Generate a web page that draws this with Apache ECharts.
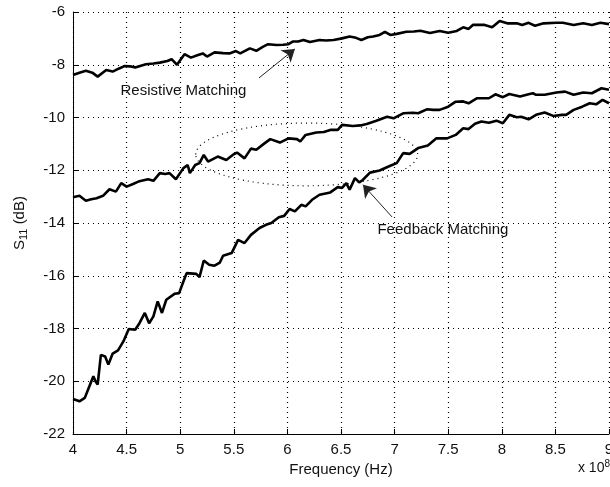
<!DOCTYPE html>
<html>
<head>
<meta charset="utf-8">
<script src="https://cdn.jsdelivr.net/npm/echarts@6/dist/echarts.min.js"></script>
<style>
  html, body { margin: 0; padding: 0; background: #fff; }
  #chart { width: 610px; height: 487px; }
</style>
</head>
<body>
<div id="chart"></div>
<script>
// frequency in units of 1e8 Hz, S11 in dB
var resistiveFreq = [4.00,4.06,4.12,4.18,4.23,4.31,4.37,4.43,4.48,4.53,4.58,4.68,4.75,4.81,4.88,4.92,4.97,5.04,5.10,5.16,5.21,5.25,5.32,5.40,5.46,5.52,5.56,5.65,5.71,5.77,5.82,5.90,5.96,6.01,6.05,6.10,6.15,6.21,6.30,6.36,6.43,6.51,6.58,6.64,6.69,6.75,6.80,6.86,6.91,6.96,7.02,7.11,7.18,7.24,7.33,7.42,7.50,7.58,7.64,7.69,7.73,7.84,7.91,7.98,8.05,8.14,8.19,8.25,8.31,8.39,8.51,8.57,8.67,8.76,8.84,8.92,9.00];
var resistiveS11 = [-8.39,-8.30,-8.23,-8.30,-8.45,-8.20,-8.26,-8.14,-8.05,-8.06,-8.10,-7.98,-7.95,-7.92,-7.86,-7.79,-8.00,-7.60,-7.73,-7.64,-7.57,-7.69,-7.53,-7.56,-7.57,-7.48,-7.57,-7.38,-7.47,-7.32,-7.22,-7.25,-7.24,-7.22,-7.12,-7.12,-7.06,-7.14,-7.06,-7.08,-7.06,-7.00,-6.93,-6.98,-7.06,-6.96,-6.93,-6.87,-6.75,-6.87,-6.83,-6.75,-6.74,-6.71,-6.80,-6.72,-6.79,-6.72,-6.58,-6.64,-6.49,-6.49,-6.58,-6.34,-6.43,-6.43,-6.49,-6.41,-6.52,-6.43,-6.41,-6.41,-6.49,-6.43,-6.49,-6.41,-6.46];

var midFreq = [4.00,4.06,4.12,4.17,4.22,4.28,4.34,4.40,4.45,4.50,4.56,4.61,4.70,4.75,4.81,4.86,4.90,4.96,5.03,5.07,5.09,5.14,5.18,5.22,5.26,5.35,5.43,5.49,5.53,5.60,5.66,5.71,5.78,5.84,5.93,6.01,6.09,6.12,6.17,6.27,6.34,6.40,6.47,6.51,6.61,6.68,6.74,6.83,6.93,6.99,7.08,7.17,7.22,7.30,7.36,7.42,7.50,7.57,7.64,7.69,7.77,7.88,7.94,8.01,8.07,8.17,8.25,8.29,8.32,8.40,8.51,8.59,8.67,8.76,8.84,8.93,9.00];
var midS11 = [-13.02,-12.97,-13.16,-13.10,-13.06,-12.97,-12.72,-12.81,-12.49,-12.62,-12.52,-12.43,-12.34,-12.40,-12.11,-12.14,-12.11,-12.34,-11.92,-11.80,-12.11,-11.80,-11.73,-11.42,-11.67,-11.48,-11.61,-11.42,-11.33,-11.55,-11.18,-11.22,-11.00,-10.82,-10.95,-10.79,-10.82,-10.91,-10.66,-10.57,-10.55,-10.47,-10.47,-10.28,-10.32,-10.30,-10.25,-10.12,-9.97,-10.03,-9.84,-9.82,-9.84,-9.69,-9.71,-9.71,-9.59,-9.40,-9.39,-9.46,-9.27,-9.27,-9.12,-9.23,-9.11,-9.20,-9.12,-9.08,-9.14,-9.14,-9.05,-9.02,-9.14,-9.05,-9.08,-8.89,-8.95];

var feedbackFreq = [4.00,4.06,4.11,4.14,4.19,4.21,4.23,4.26,4.30,4.33,4.37,4.42,4.47,4.52,4.58,4.62,4.67,4.71,4.75,4.79,4.83,4.87,4.95,4.99,5.03,5.06,5.15,5.18,5.22,5.27,5.32,5.37,5.40,5.48,5.54,5.60,5.66,5.74,5.80,5.85,5.92,5.97,6.02,6.07,6.13,6.17,6.23,6.30,6.40,6.47,6.51,6.55,6.58,6.63,6.67,6.70,6.77,6.86,6.96,7.02,7.08,7.14,7.22,7.31,7.39,7.49,7.57,7.64,7.69,7.75,7.81,7.88,7.95,8.01,8.07,8.14,8.18,8.25,8.32,8.40,8.48,8.56,8.60,8.67,8.75,8.82,8.88,8.94,9.00];
var feedbackS11 = [-20.67,-20.76,-20.63,-20.32,-19.81,-20.00,-20.13,-19.00,-19.06,-19.37,-18.95,-18.83,-18.49,-18.02,-18.05,-17.80,-17.41,-17.80,-17.54,-16.97,-17.41,-16.91,-16.68,-16.66,-16.22,-15.90,-15.93,-16.05,-15.42,-15.58,-15.62,-15.50,-15.24,-15.14,-14.64,-14.76,-14.45,-14.19,-14.07,-14.00,-13.78,-13.73,-13.47,-13.56,-13.31,-13.37,-13.12,-12.93,-12.84,-12.64,-12.67,-12.49,-12.74,-12.30,-12.46,-12.38,-12.09,-12.01,-11.83,-11.73,-11.35,-11.38,-11.16,-11.06,-10.79,-10.79,-10.66,-10.41,-10.44,-10.24,-10.15,-10.20,-10.12,-10.22,-9.90,-9.99,-9.97,-10.07,-9.90,-9.81,-9.94,-9.90,-9.90,-9.71,-9.59,-9.46,-9.50,-9.33,-9.46];

// annotations, in data coordinates
var resistiveArrow = [[5.735, -8.5], [6.07, -7.4]];
var feedbackArrow = [[6.976, -13.77], [6.705, -12.55]];
var resistiveLabel = [5.03, -8.99];
var feedbackLabel = [6.84, -14.26];
var ellipseCenter = [6.18, -11.4];
var ellipseRadius = [1.035, 1.19];

var FONT = "'Liberation Sans', Arial, sans-serif";

function zip(xs, ys) {
  return xs.map(function (x, i) { return [x, ys[i]]; });
}

var chart = echarts.init(document.getElementById('chart'));

function curve(name, xs, ys) {
  return {
    name: name,
    type: 'line',
    data: zip(xs, ys),
    showSymbol: false,
    symbol: 'none',
    lineStyle: { color: '#000', width: 2.6 },
    animation: false,
    z: 3
  };
}

function arrow(pts) {
  return {
    type: 'lines',
    coordinateSystem: 'cartesian2d',
    symbol: ['none', 'arrow'],
    symbolSize: [7, 12],
    lineStyle: { color: '#222', width: 1, opacity: 1 },
    data: [{ coords: pts }],
    animation: false,
    z: 4
  };
}

var dotted = { color: '#000', width: 1.2, type: [1, 4] };

chart.setOption({
  backgroundColor: '#fff',
  animation: false,
  grid: { left: 73, right: 1, top: 12, bottom: 53, outerBoundsMode: 'none', containLabel: false },
  xAxis: {
    type: 'value',
    min: 4, max: 9, interval: 0.5,
    name: 'Frequency (Hz)',
    nameLocation: 'middle',
    nameGap: 25,
    nameTextStyle: { fontFamily: FONT, fontSize: 15, color: '#111' },
    axisLine: { onZero: false, lineStyle: { color: '#000', width: 1 } },
    axisTick: { inside: true, length: 5, lineStyle: { color: '#000' } },
    axisLabel: { fontFamily: FONT, fontSize: 15, color: '#111', margin: 8 },
    splitLine: { show: true, lineStyle: dotted }
  },
  yAxis: {
    type: 'value',
    min: -22, max: -6, interval: 2,
    name: '{s|S}{sub|11}{s| (dB)}',
    nameLocation: 'middle',
    nameGap: 44,
    nameRotate: 90,
    nameTextStyle: {
      fontFamily: FONT, fontSize: 15, color: '#111',
      rich: {
        s: { fontFamily: FONT, fontSize: 15, color: '#111', lineHeight: 18 },
        sub: { fontFamily: FONT, fontSize: 11, color: '#111', lineHeight: 18, verticalAlign: 'bottom', padding: [8, 0, 0, 0] }
      }
    },
    axisLine: { onZero: false, lineStyle: { color: '#000', width: 1 } },
    axisTick: { inside: true, length: 5, lineStyle: { color: '#000' } },
    axisLabel: { fontFamily: FONT, fontSize: 15, color: '#111', margin: 8 },
    splitLine: { show: true, lineStyle: dotted }
  },
  series: [
    curve('Resistive Matching', resistiveFreq, resistiveS11),
    curve('Middle', midFreq, midS11),
    curve('Feedback Matching', feedbackFreq, feedbackS11),
    arrow(resistiveArrow),
    arrow(feedbackArrow)
  ]
});

// texts and the dotted ellipse, placed through the axes
function px(p) { return chart.convertToPixel({ gridIndex: 0 }, p); }
var c = px(ellipseCenter);
var e = px([ellipseCenter[0] + ellipseRadius[0], ellipseCenter[1] - ellipseRadius[1]]);
var rl = px(resistiveLabel);
var fl = px(feedbackLabel);

chart.setOption({
  graphic: [
    {
      type: 'ellipse', silent: true, z: 2,
      shape: { cx: c[0], cy: c[1], rx: e[0] - c[0], ry: e[1] - c[1] },
      style: { fill: 'none', stroke: '#000', lineWidth: 1.2, lineDash: [1, 4] }
    },
    {
      type: 'text', z: 5, x: rl[0], y: rl[1],
      style: { text: 'Resistive Matching', font: '15px ' + FONT, fill: '#111', align: 'center', verticalAlign: 'middle' }
    },
    {
      type: 'text', z: 5, x: fl[0], y: fl[1],
      style: { text: 'Feedback Matching', font: '15px ' + FONT, fill: '#111', align: 'left', verticalAlign: 'middle' }
    },
    {
      type: 'text', z: 5, right: 0, bottom: 10,
      style: {
        text: '{a|x 10}{b|8}',
        rich: {
          a: { font: '14px ' + FONT, fill: '#111', lineHeight: 18 },
          b: { font: '10px ' + FONT, fill: '#111', lineHeight: 18, verticalAlign: 'top', padding: [0, 0, 8, 0] }
        }
      }
    }
  ]
});
</script>
</body>
</html>
